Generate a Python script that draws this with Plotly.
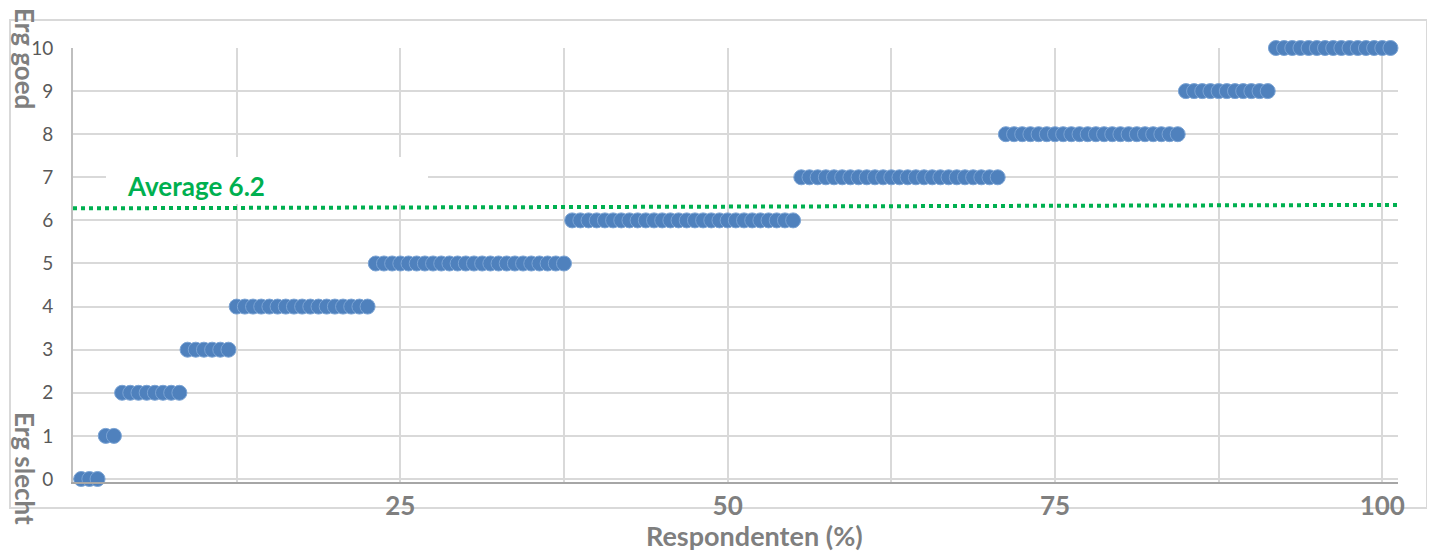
import plotly.graph_objects as go

# ---- data ----
scores = [0, 1, 2, 3, 4, 5, 6, 7, 8, 9, 10]
counts = [3, 2, 8, 6, 17, 24, 28, 25, 22, 11, 16]   # respondents per score (sorted)
pct_per_respondent = 0.625                            # x spacing between respondents (%)
x_tick_vals = [12.5, 25, 37.5, 50, 62.5, 75, 87.5, 100]
x_tick_text = ["", "25", "", "50", "", "75", "", "100"]
y_tick_vals = [0, 1, 2, 3, 4, 5, 6, 7, 8, 9, 10]
avg_label = "Average 6.2"
avg_line_x = [0, 101.2]
avg_line_y = [6.28, 6.36]

xs, ys = [], []
rank = 0
for s, c in zip(scores, counts):
    for _ in range(c):
        rank += 1
        xs.append(rank * pct_per_respondent)
        ys.append(s)

FONT = "Lato"
GRAY = "#7f7f7f"

fig = go.Figure()
fig.add_trace(go.Scatter(
    x=avg_line_x, y=avg_line_y, mode="lines",
    line=dict(color="#00b050", width=4, dash="dot"),
    hoverinfo="skip", showlegend=False))
fig.add_trace(go.Scatter(
    x=xs, y=ys, mode="markers", cliponaxis=False,
    marker=dict(size=15, color="#4f81bd", line=dict(width=1, color="#7aa3d4")),
    showlegend=False))

# page has an 8px body margin; work in reference-page pixels
OFF = 8
W, H = 1435 - OFF, 555 - OFF
PL, PR, PT, PB = 73, 1398, 48, 482          # plot area in page pixels
L, R, T, B = PL - OFF, W - (PR - OFF), PT - OFF, H - (PB - OFF)
pw, ph = PR - PL, PB - PT

def px2paper_x(px):
    return (px - PL) / pw

def px2paper_y(py):
    return (PB - py) / ph

fig.update_layout(
    width=W, height=H,
    margin=dict(l=L, r=R, t=T, b=B, autoexpand=False),
    paper_bgcolor="white", plot_bgcolor="white",
    font=dict(family=FONT),
    xaxis=dict(range=[0, 101.2], tickvals=x_tick_vals, ticktext=x_tick_text,
               showgrid=True, gridcolor="#d9d9d9", gridwidth=2,
               showline=True, linecolor="#a6a6a6", linewidth=2,
               zeroline=False, ticks="", ticklabelstandoff=0,
               tickfont=dict(family=FONT, size=26, color=GRAY, weight="bold")),
    yaxis=dict(range=[-0.07, 10], tickvals=y_tick_vals,
               showgrid=True, gridcolor="#d9d9d9", gridwidth=2,
               showline=True, linecolor="#bfbfbf", linewidth=2,
               zeroline=False, ticks="", ticklabelstandoff=14,
               tickfont=dict(family=FONT, size=19, color="#595959")),
    shapes=[
        dict(type="rect", xref="paper", yref="paper",
             x0=px2paper_x(10), x1=px2paper_x(1427),
             y0=px2paper_y(508), y1=px2paper_y(20),
             line=dict(color="#d9d9d9", width=2), fillcolor="rgba(0,0,0,0)",
             layer="below"),
        dict(type="rect", xref="paper", yref="paper",
             x0=px2paper_x(106), x1=px2paper_x(428),
             y0=px2paper_y(204), y1=px2paper_y(157),
             line=dict(width=0), fillcolor="white", layer="above"),
    ],
    annotations=[
        dict(text=avg_label, xref="paper", yref="paper",
             x=px2paper_x(125), y=px2paper_y(186), xanchor="left", yanchor="middle",
             showarrow=False, font=dict(family=FONT, size=26, color="#00b050", weight="bold")),
        dict(text="Erg goed", xref="paper", yref="paper",
             x=px2paper_x(25), y=px2paper_y(58), xanchor="center", yanchor="middle",
             textangle=90, showarrow=False,
             font=dict(family=FONT, size=26, color=GRAY, weight="bold")),
        dict(text="Erg slecht", xref="paper", yref="paper",
             x=px2paper_x(25), y=px2paper_y(468), xanchor="center", yanchor="middle",
             textangle=90, showarrow=False,
             font=dict(family=FONT, size=26, color=GRAY, weight="bold")),
        dict(text="Respondenten (%)", xref="paper", yref="paper",
             x=px2paper_x(754), y=px2paper_y(535), xanchor="center", yanchor="middle",
             showarrow=False, font=dict(family=FONT, size=27, color=GRAY, weight="bold")),
    ],
)

fig.write_html("out.html")
